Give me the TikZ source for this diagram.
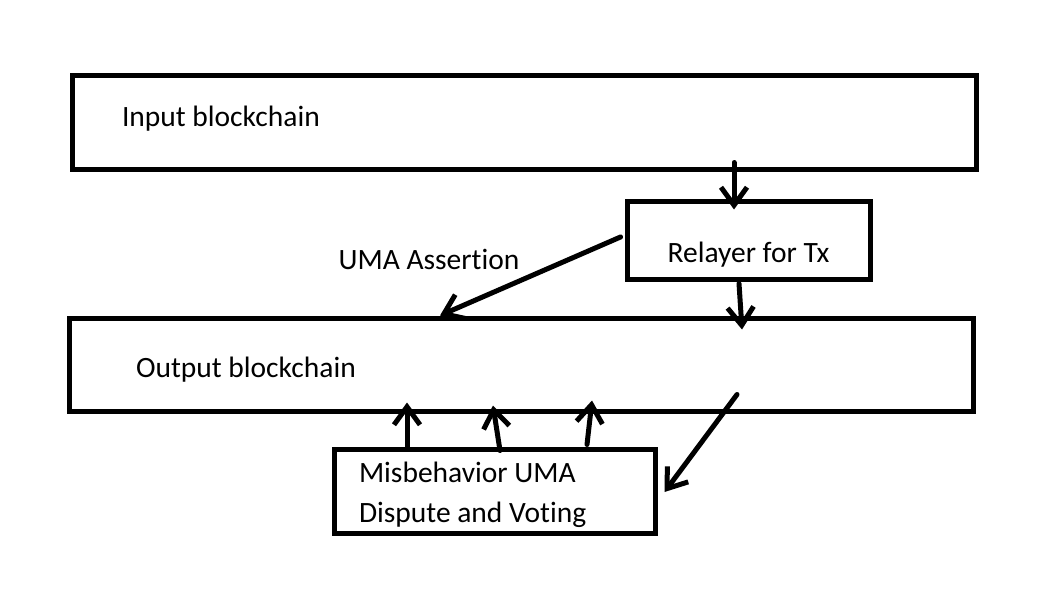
\documentclass[tikz,border=0pt]{standalone}
\usepackage{fontspec}
\setmainfont{Carlito}[Ligatures=NoCommon]
\usetikzlibrary{arrows.meta,calc}

\tikzset{
  chainbox/.style={draw, line width=5pt, align=flush left, inner ysep=0pt},
  smallbox/.style={draw, line width=5pt, inner ysep=0pt},
  arr/.style={line width=5pt, line cap=round, -{Straight Barb[length=18pt,width=26pt]}}
}

\begin{document}
\begin{tikzpicture}[x=1pt,y=-1pt,font=\fontsize{29.5}{40}\selectfont]
  \useasboundingbox (0,0) rectangle (1048,602);
  % the two chains
  \node[chainbox, text width=804pt, inner xsep=50pt, minimum height=94pt, text depth=12pt] (input) at (524,122) {Input blockchain};
  \node[chainbox, text width=770pt, inner xsep=67pt, minimum height=93pt, text height=31pt] (output) at (521,364.5) {Output blockchain};
  % relayer and dispute boxes
  \node[smallbox, minimum width=243pt, minimum height=78pt, text height=44pt, text depth=0pt] (relayer) at (748.5,240) {Relayer for Tx};
  \node[smallbox, align=flush left, text width=271pt, inner xsep=25pt, minimum height=84pt] (dispute) at (494.5,491) {\strut Misbehavior UMA\\Dispute and Voting};
  \node (assertion) at (429,259) {UMA Assertion};
  % arrows
  \draw[arr] ($(input.south)+(210,-9)$) -- ($(relayer.north)+(-14.5,11)$);
  \draw[arr] ($(relayer.south)+(-9.5,2)$) -- ($(output.north)+(221,14)$);
  \draw[arr] ($(relayer.west)+(-4,-3)$) -- ($(output.north)+(-81,0)$);
  \draw[arr] ($(output.south)+(216,-19)$) -- ($(dispute.east)+(7,1)$);
  \foreach \a/\b/\c/\d in {-87.5/1/-114/-11, 5.5/4/-28/-8, 92.5/-2/71/-13}
    \draw[arr] ($(dispute.north)+(\a,\b)$) -- ($(output.south)+(\c,\d)$);
\end{tikzpicture}
\end{document}
